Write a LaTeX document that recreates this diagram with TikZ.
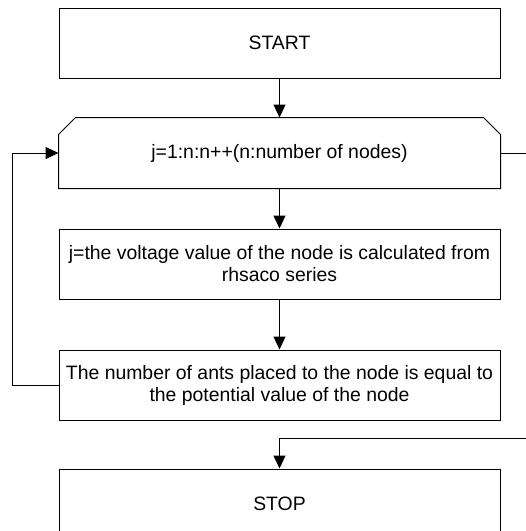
\documentclass[tikz,border=0pt]{standalone}
\usepackage{fontspec}
\setmainfont{Liberation Sans}
\usetikzlibrary{positioning,arrows.meta}

\tikzset{
    flowbox/.style={draw, line width=1pt, minimum width=441pt, minimum height=70pt,
        inner sep=0pt, align=center, font=\fontsize{19.4}{22}\selectfont},
    flow/.style={line width=1pt, -{Triangle[length=13pt,width=12pt]}},
    plain/.style={line width=1pt}
}

\begin{document}
\begin{tikzpicture}[x=1pt,y=-1pt]
            \useasboundingbox (0,0) rectangle (526,531);
            \node[flowbox] (start) at (279.5,43) {START};
            \node[flowbox, draw=none, below=39pt of start] (loop) {j=1:n:n++(n:number of nodes)};
            \node[flowbox, below=40pt of loop] (calc) {j=the voltage value of the node is calculated from\\rhsaco series};
            \node[flowbox, below=50pt of calc] (ants) {The number of ants placed to the node is equal to\\the potential value of the node};
            \node[flowbox, below=48pt of ants] (stop) {STOP};
            % loop box with cut top corners
            \draw[plain] (loop.south west) -- ([yshift=-17pt]loop.north west) -- ([xshift=17pt]loop.north west)
                -- ([xshift=-17pt]loop.north east) -- ([yshift=-17pt]loop.north east) -- (loop.south east) -- cycle;
            \coordinate (back) at (12,0);
            \coordinate (outR) at (526,0);
            \coordinate (inR) at (526,438);
            \draw[flow] (start) -- (loop);
            \draw[flow] (loop) -- (calc);
            \draw[flow] (calc) -- (ants);
            \draw[flow] (ants.west) -- (ants.west -| back) |- (loop.west);
            \draw[plain] (loop.east) -- (loop.east -| outR);
            \draw[flow] (inR) -| (stop.north);
        \end{tikzpicture}
\end{document}
